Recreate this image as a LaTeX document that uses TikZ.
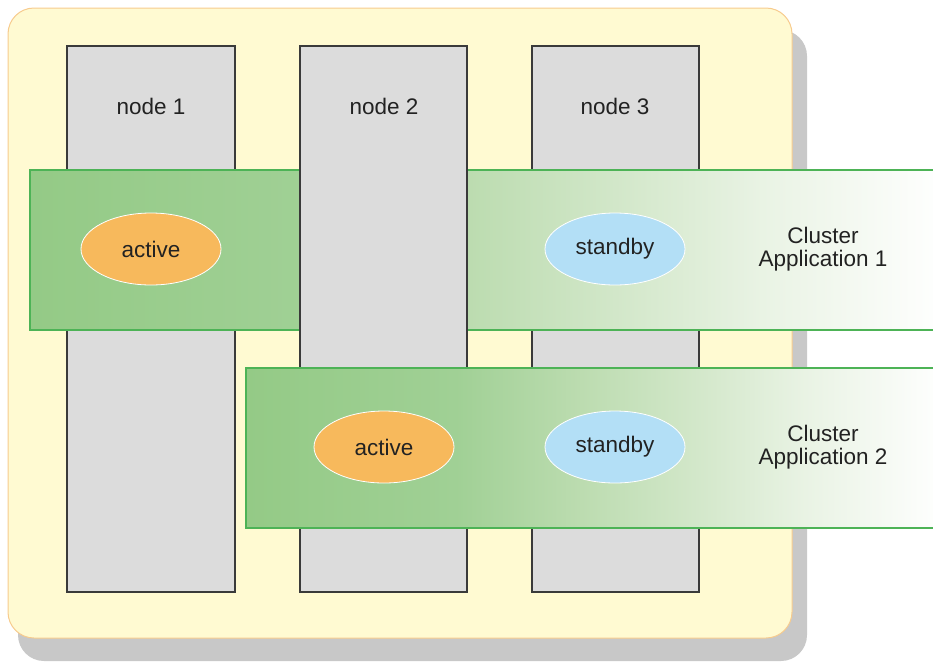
\documentclass[tikz,border=0pt]{standalone}
\usepackage{fontspec}
\setmainfont{Liberation Sans}
\usetikzlibrary{shapes.geometric}
\definecolor{panelfill}{HTML}{FFFAD2}
\definecolor{paneledge}{HTML}{F7CB8E}
\definecolor{shadowgray}{HTML}{C8C8C8}
\definecolor{boxfill}{HTML}{DCDCDC}
\definecolor{boxedge}{HTML}{3A3A3A}
\definecolor{bandedge}{HTML}{4DB356}
\definecolor{actfill}{HTML}{F7B95C}
\definecolor{stbfill}{HTML}{B3DFF6}
\definecolor{gA}{HTML}{94CA86}
\definecolor{gB}{HTML}{A0D095}
\definecolor{gC}{HTML}{BCDCB0}
\definecolor{gD}{HTML}{D2E7C9}
\definecolor{gE}{HTML}{E9F3E4}
\definecolor{txt}{HTML}{222222}
\pgfdeclarehorizontalshading{bandshade}{100bp}{color(0bp)=(gA); color(25bp)=(gA); color(40bp)=(gB); color(49bp)=(gC); color(57bp)=(gD); color(65bp)=(gE); color(75bp)=(white); color(100bp)=(white)}
\tikzset{
  colbox/.style={draw=boxedge, line width=1.2pt, fill=boxfill},
  band/.style={draw=bandedge, line width=1.5pt, shading=bandshade},
  ovalnode/.style={ellipse, draw=white, line width=0.8pt, minimum width=140pt, minimum height=72pt, inner sep=0pt, font=\fontsize{22.5}{23}\selectfont, text=txt},
  active/.style={ovalnode, fill=actfill},
  standby/.style={ovalnode, fill=stbfill},
  lbl/.style={font=\fontsize{22.5}{22.5}\selectfont, text=txt, align=center}
}
\begin{document}
\begin{tikzpicture}[x=1pt, y=-1pt]
\useasboundingbox (0,0) rectangle (933,662);
% shadow and panel
\fill[shadowgray, rounded corners=26pt] (18,30) rectangle (807,661);
\draw[fill=panelfill, draw=paneledge, line width=1pt, rounded corners=26pt] (8,8) rectangle (792,638);
% node columns 1 and 3
\draw[colbox] (67,46) rectangle (235,592);
\draw[colbox] (532,46) rectangle (699,592);
\node[lbl] (n1) at (151,106) {node 1};
\node[lbl] (n3) at (615,106) {node 3};
% band 1
\draw[band] (30,170) rectangle (945,330);
% node column 2 (above band 1)
\draw[colbox] (300,46) rectangle (467,592);
\node[lbl] (n2) at (384,106) {node 2};
% band 2
\draw[band] (246,368) rectangle (945,528);
% ellipses
\node[active] (a1) at (151,249) {active};
\node[standby] (s1) at (615,249) {standby};
\node[active] (a2) at (384,447) {active};
\node[standby] (s2) at (615,447) {standby};
% labels
\node[lbl] (c1) at (823,249) {Cluster\\Application 1};
\node[lbl] (c2) at (823,447) {Cluster\\Application 2};
\end{tikzpicture}
\end{document}
